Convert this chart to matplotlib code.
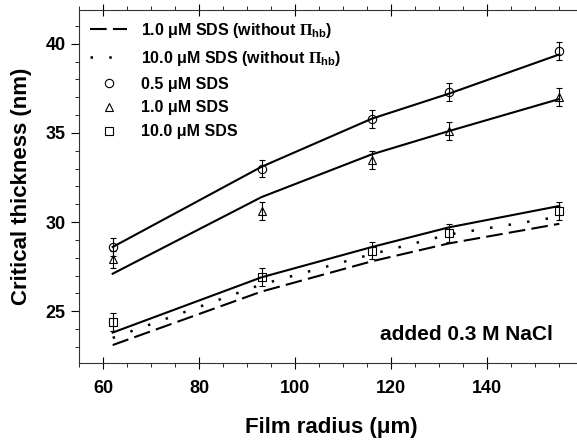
import matplotlib
matplotlib.use('Agg')
import matplotlib.pyplot as plt
from matplotlib.ticker import MultipleLocator, FixedLocator

plt.rcParams['font.family'] = ['Liberation Sans', 'DejaVu Sans']
plt.rcParams['font.weight'] = 'bold'
plt.rcParams['mathtext.fontset'] = 'custom'
plt.rcParams['mathtext.rm'] = 'Liberation Serif'
plt.rcParams['mathtext.it'] = 'Liberation Serif:italic'
plt.rcParams['mathtext.bf'] = 'Liberation Sans:bold'

# film radius (um)
radius = [62, 93, 116, 132, 155]

# measured critical thickness (nm)
sds_05 = [28.6, 33.0, 35.8, 37.3, 39.6]
sds_10 = [27.9, 30.6, 33.5, 35.1, 37.0]
sds_100 = [24.4, 26.9, 28.4, 29.4, 30.6]
err = [0.5, 0.5, 0.5, 0.5, 0.5]

# model curves
fit_05 = [28.6, 33.1, 35.8, 37.2, 39.4]
fit_10 = [27.1, 31.4, 33.8, 35.1, 36.9]
fit_100 = [23.8, 26.9, 28.6, 29.7, 30.9]
fit_100_nohb = [23.5, 26.5, 28.2, 29.3, 30.3]
fit_10_nohb = [23.1, 26.1, 27.8, 28.8, 29.9]

xticks = [60, 80, 100, 120, 140]

fig = plt.figure(figsize=(5.77, 4.48), dpi=100)
ax = fig.add_axes([0.137, 0.19, 0.874, 0.788])

ax.plot(radius, fit_05, 'k-', lw=1.5)
ax.plot(radius, fit_10, 'k-', lw=1.5)
ax.plot(radius, fit_100, 'k-', lw=1.5)
l1, = ax.plot(radius, fit_10_nohb, 'k-', lw=1.5, dashes=(8, 3))
l2, = ax.plot(radius, fit_100_nohb, 'k-', lw=1.8, dashes=(1, 6.5))

mk = dict(ls='none', mfc='none', mec='k', mew=0.8, ms=6, ecolor='k',
          elinewidth=0.8, capsize=2.5, capthick=0.8)
ax.errorbar(radius, sds_05, yerr=err, marker='o', **mk)
ax.errorbar(radius, sds_10, yerr=err, marker='^', **mk)
ax.errorbar(radius, sds_100, yerr=err, marker='s', **mk)

labels = [r'1.0 μM SDS (without $\mathrm{\Pi}_{\mathbf{hb}}$)',
          r'10.0 μM SDS (without $\mathrm{\Pi}_{\mathbf{hb}}$)',
          '0.5 μM SDS', '1.0 μM SDS', '10.0 μM SDS']
h_o, = ax.plot([], [], 'o', mfc='none', mec='k', mew=0.8, ms=6)
h_t, = ax.plot([], [], '^', mfc='none', mec='k', mew=0.8, ms=6)
h_s, = ax.plot([], [], 's', mfc='none', mec='k', mew=0.8, ms=6)
ax.legend([l1, l2, h_o, h_t, h_s], labels, loc='upper left',
          bbox_to_anchor=(0.0, 1.0), frameon=False, fontsize=11.5,
          handlelength=2.3, handletextpad=0.9, labelspacing=0.55,
          borderaxespad=0.3)

ax.text(0.94, 0.08, 'added 0.3 M NaCl', transform=ax.transAxes,
        fontsize=15, ha='right', va='center')

ax.set_xlim(55, 160)
ax.set_ylim(22.1, 41.9)
ax.xaxis.set_major_locator(FixedLocator(xticks))
ax.xaxis.set_minor_locator(MultipleLocator(5))
ax.yaxis.set_major_locator(MultipleLocator(5))
ax.yaxis.set_minor_locator(MultipleLocator(1))
ax.tick_params(axis='x', which='major', direction='inout', length=9,
               top=True, labelsize=13, pad=8)
ax.tick_params(axis='x', which='minor', direction='out', length=3, top=True)
ax.tick_params(axis='y', which='major', direction='out', length=6, labelsize=13)
ax.tick_params(axis='y', which='minor', direction='out', length=3)
ax.spines['right'].set_visible(False)
for s in ax.spines.values():
    s.set_linewidth(0.8)
    s.set_color('#333333')

ax.set_xlabel('Film radius (μm)', fontsize=16, fontweight='bold', labelpad=14)
ax.set_ylabel('Critical thickness (nm)', fontsize=16, fontweight='bold',
              labelpad=10)

fig.savefig('out.png', dpi=100)
